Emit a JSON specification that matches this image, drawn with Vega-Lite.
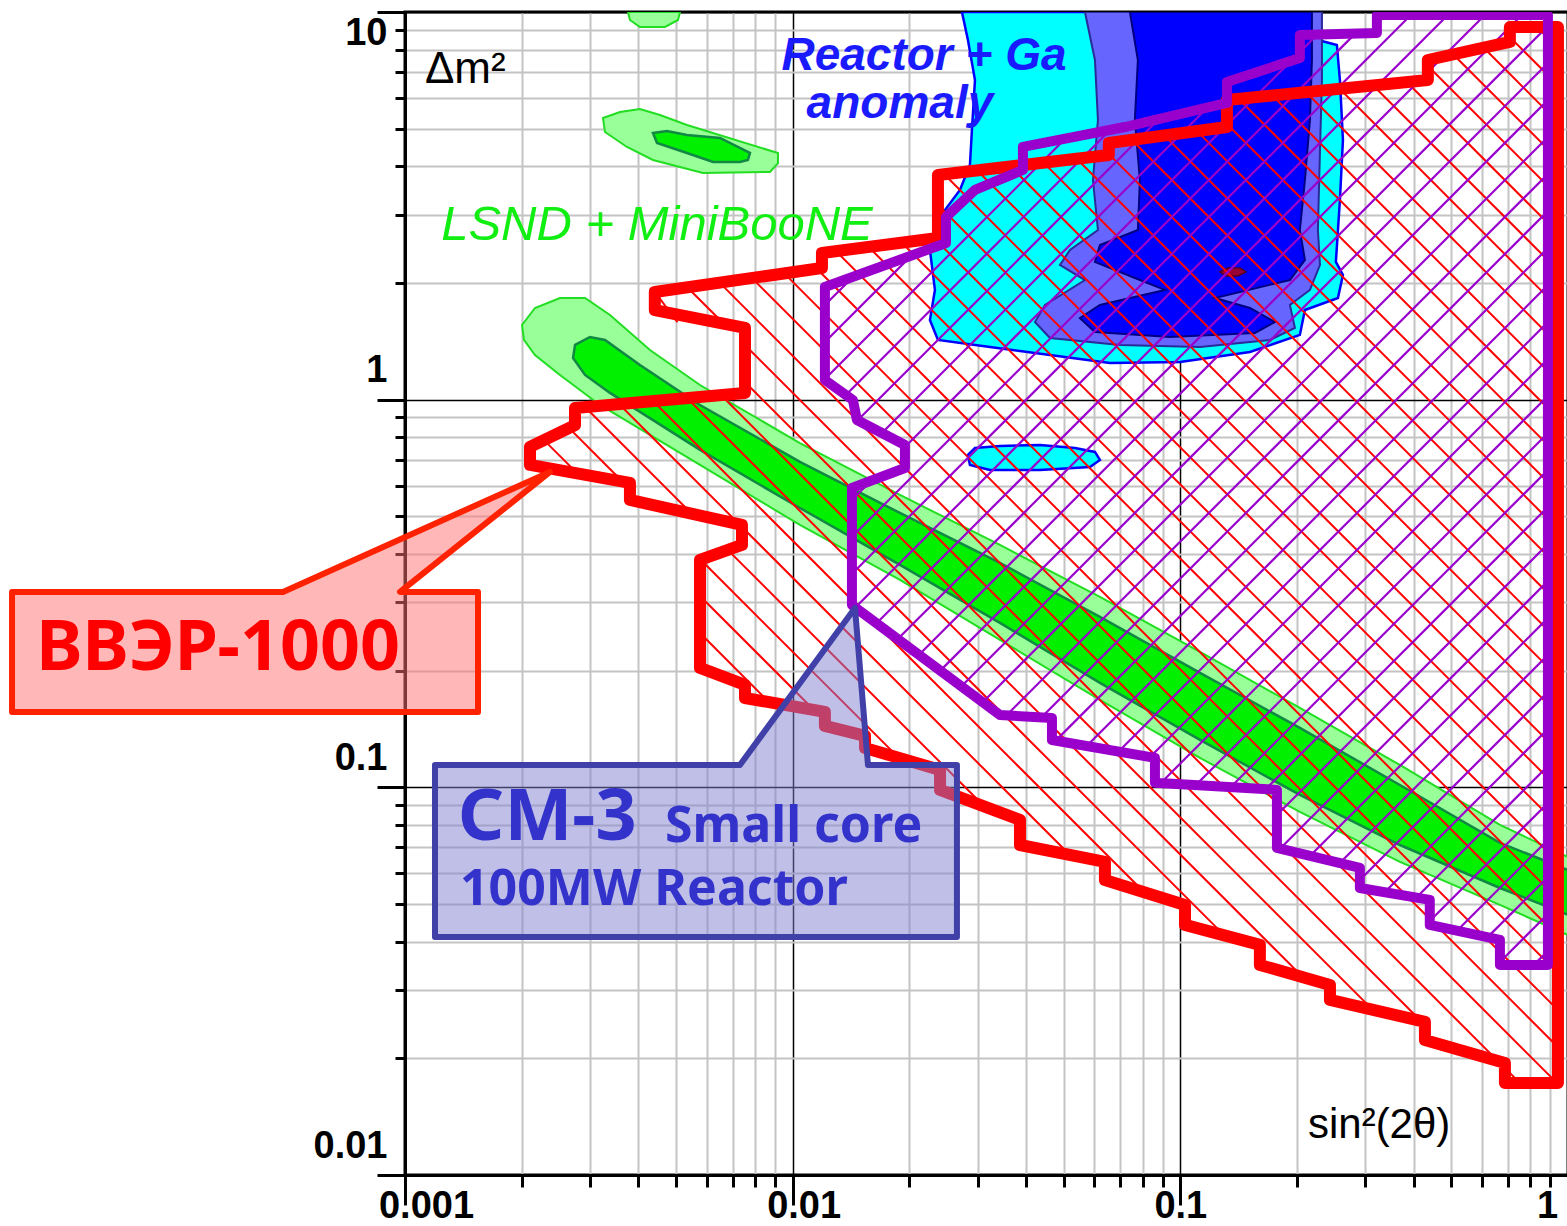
{
"$schema":"https://vega.github.io/schema/vega-lite/v6.json",
"width":1163,"height":1163,
"autosize":{"type":"none"},
"padding":{"left":405,"top":12,"right":0,"bottom":51},
"background":"white",
"config":{"view":{"stroke":"black","strokeWidth":3}},
"datasets":{
"poly":[
{"s":"g1","p":1,"i":0,"x":0.002004,"y":1.558},{"s":"g1","p":1,"i":1,"x":0.002164,"y":1.724},{"s":"g1","p":1,"i":2,"x":0.00251,"y":1.829},{"s":"g1","p":1,"i":3,"x":0.002913,"y":1.829},{"s":"g1","p":1,"i":4,"x":0.003379,"y":1.654},{"s":"g1","p":1,"i":5,"x":0.004284,"y":1.343},{"s":"g1","p":1,"i":6,"x":0.005767,"y":1.091},{"s":"g1","p":1,"i":7,"x":0.01044,"y":0.773},{"s":"g1","p":1,"i":8,"x":0.01891,"y":0.5678},{"s":"g1","p":1,"i":9,"x":0.03425,"y":0.422},{"s":"g1","p":1,"i":10,"x":0.06203,"y":0.3098},{"s":"g1","p":1,"i":11,"x":0.1124,"y":0.2235},{"s":"g1","p":1,"i":12,"x":0.2034,"y":0.1602},{"s":"g1","p":1,"i":13,"x":0.3685,"y":0.1142},{"s":"g1","p":1,"i":14,"x":0.6674,"y":0.08},{"s":"g1","p":1,"i":15,"x":1.0,"y":0.0661},{"s":"g1","p":1,"i":16,"x":1.0,"y":0.0416},{"s":"g1","p":1,"i":17,"x":0.6674,"y":0.04974},{"s":"g1","p":1,"i":18,"x":0.3685,"y":0.0642},{"s":"g1","p":1,"i":19,"x":0.2034,"y":0.0864},{"s":"g1","p":1,"i":20,"x":0.1124,"y":0.1191},{"s":"g1","p":1,"i":21,"x":0.06203,"y":0.168},{"s":"g1","p":1,"i":22,"x":0.03425,"y":0.24},{"s":"g1","p":1,"i":23,"x":0.01891,"y":0.3427},{"s":"g1","p":1,"i":24,"x":0.01044,"y":0.4752},{"s":"g1","p":1,"i":25,"x":0.005767,"y":0.6786},{"s":"g1","p":1,"i":26,"x":0.003184,"y":0.969},{"s":"g1","p":1,"i":27,"x":0.00251,"y":1.158},{"s":"g1","p":1,"i":28,"x":0.002164,"y":1.304},{"s":"g1","p":1,"i":29,"x":0.002027,"y":1.426},
{"s":"g1","p":2,"i":0,"x":0.003241,"y":5.329},{"s":"g1","p":2,"i":1,"x":0.003586,"y":5.523},{"s":"g1","p":2,"i":2,"x":0.004037,"y":5.622},{"s":"g1","p":2,"i":3,"x":0.004546,"y":5.425},{"s":"g1","p":2,"i":4,"x":0.005338,"y":5.11},{"s":"g1","p":2,"i":5,"x":0.009165,"y":4.328},{"s":"g1","p":2,"i":6,"x":0.009165,"y":4.077},{"s":"g1","p":2,"i":7,"x":0.008739,"y":3.867},{"s":"g1","p":2,"i":8,"x":0.005869,"y":3.844},{"s":"g1","p":2,"i":9,"x":0.004362,"y":4.152},{"s":"g1","p":2,"i":10,"x":0.003738,"y":4.486},{"s":"g1","p":2,"i":11,"x":0.00328,"y":4.903},
{"s":"g1","p":3,"i":0,"x":0.003761,"y":10},{"s":"g1","p":3,"i":1,"x":0.003804,"y":9.536},{"s":"g1","p":3,"i":2,"x":0.004037,"y":9.15},{"s":"g1","p":3,"i":3,"x":0.004684,"y":9.15},{"s":"g1","p":3,"i":4,"x":0.005061,"y":9.536},{"s":"g1","p":3,"i":5,"x":0.005121,"y":10},
{"s":"g2","p":1,"i":0,"x":0.002745,"y":1.384},{"s":"g2","p":1,"i":1,"x":0.003,"y":1.451},{"s":"g2","p":1,"i":2,"x":0.00328,"y":1.426},{"s":"g2","p":1,"i":3,"x":0.004037,"y":1.229},{"s":"g2","p":1,"i":4,"x":0.005767,"y":0.969},{"s":"g2","p":1,"i":5,"x":0.01044,"y":0.691},{"s":"g2","p":1,"i":6,"x":0.01891,"y":0.5102},{"s":"g2","p":1,"i":7,"x":0.03425,"y":0.3792},{"s":"g2","p":1,"i":8,"x":0.06203,"y":0.2751},{"s":"g2","p":1,"i":9,"x":0.1124,"y":0.1973},{"s":"g2","p":1,"i":10,"x":0.2034,"y":0.1423},{"s":"g2","p":1,"i":11,"x":0.3685,"y":0.1014},{"s":"g2","p":1,"i":12,"x":0.6674,"y":0.0719},{"s":"g2","p":1,"i":13,"x":1.0,"y":0.0612},{"s":"g2","p":1,"i":14,"x":1.0,"y":0.0469},{"s":"g2","p":1,"i":15,"x":0.6674,"y":0.055},{"s":"g2","p":1,"i":16,"x":0.3685,"y":0.071},{"s":"g2","p":1,"i":17,"x":0.2034,"y":0.0956},{"s":"g2","p":1,"i":18,"x":0.1124,"y":0.1325},{"s":"g2","p":1,"i":19,"x":0.06203,"y":0.1859},{"s":"g2","p":1,"i":20,"x":0.03425,"y":0.2655},{"s":"g2","p":1,"i":21,"x":0.01891,"y":0.3747},{"s":"g2","p":1,"i":22,"x":0.01044,"y":0.5255},{"s":"g2","p":1,"i":23,"x":0.005767,"y":0.742},{"s":"g2","p":1,"i":24,"x":0.003379,"y":1.041},{"s":"g2","p":1,"i":25,"x":0.002913,"y":1.158},{"s":"g2","p":1,"i":26,"x":0.002713,"y":1.281},
{"s":"g2","p":2,"i":0,"x":0.004362,"y":4.874},{"s":"g2","p":2,"i":1,"x":0.00474,"y":4.933},{"s":"g2","p":2,"i":2,"x":0.005338,"y":4.816},{"s":"g2","p":2,"i":3,"x":0.006494,"y":4.732},{"s":"g2","p":2,"i":4,"x":0.007761,"y":4.328},{"s":"g2","p":2,"i":5,"x":0.007667,"y":4.152},{"s":"g2","p":2,"i":6,"x":0.007311,"y":4.103},{"s":"g2","p":2,"i":7,"x":0.006229,"y":4.103},{"s":"g2","p":2,"i":8,"x":0.005338,"y":4.328},{"s":"g2","p":2,"i":9,"x":0.004467,"y":4.594},
{"s":"c1","p":1,"i":0,"x":0.02733,"y":10},{"s":"c1","p":1,"i":1,"x":0.02832,"y":8.47},{"s":"c1","p":1,"i":2,"x":0.02953,"y":6.678},{"s":"c1","p":1,"i":3,"x":0.029,"y":4.961},{"s":"c1","p":1,"i":4,"x":0.02866,"y":4.03},{"s":"c1","p":1,"i":5,"x":0.02701,"y":3.475},{"s":"c1","p":1,"i":6,"x":0.02471,"y":3.085},{"s":"c1","p":1,"i":7,"x":0.02328,"y":2.66},{"s":"c1","p":1,"i":8,"x":0.0226,"y":2.433},{"s":"c1","p":1,"i":9,"x":0.02328,"y":1.919},{"s":"c1","p":1,"i":10,"x":0.0226,"y":1.605},{"s":"c1","p":1,"i":11,"x":0.0237,"y":1.426},{"s":"c1","p":1,"i":12,"x":0.03228,"y":1.367},{"s":"c1","p":1,"i":13,"x":0.0461,"y":1.304},{"s":"c1","p":1,"i":14,"x":0.0658,"y":1.244},{"s":"c1","p":1,"i":15,"x":0.0998,"y":1.251},{"s":"c1","p":1,"i":16,"x":0.1512,"y":1.327},{"s":"c1","p":1,"i":17,"x":0.2034,"y":1.469},{"s":"c1","p":1,"i":18,"x":0.2096,"y":1.703},{"s":"c1","p":1,"i":19,"x":0.255,"y":1.829},{"s":"c1","p":1,"i":20,"x":0.2627,"y":2.097},{"s":"c1","p":1,"i":21,"x":0.2519,"y":2.266},{"s":"c1","p":1,"i":22,"x":0.258,"y":3.274},{"s":"c1","p":1,"i":23,"x":0.2627,"y":4.676},{"s":"c1","p":1,"i":24,"x":0.258,"y":6.678},{"s":"c1","p":1,"i":25,"x":0.2534,"y":8.223},{"s":"c1","p":1,"i":26,"x":0.2264,"y":8.47},{"s":"c1","p":1,"i":27,"x":0.2224,"y":10},
{"s":"c1","p":2,"i":0,"x":0.02832,"y":0.7203},{"s":"c1","p":2,"i":1,"x":0.02953,"y":0.7506},{"s":"c1","p":2,"i":2,"x":0.03425,"y":0.7597},{"s":"c1","p":2,"i":3,"x":0.04345,"y":0.7641},{"s":"c1","p":2,"i":4,"x":0.05348,"y":0.7506},{"s":"c1","p":2,"i":5,"x":0.06022,"y":0.7332},{"s":"c1","p":2,"i":6,"x":0.06203,"y":0.6992},{"s":"c1","p":2,"i":7,"x":0.05846,"y":0.6707},{"s":"c1","p":2,"i":8,"x":0.04345,"y":0.6589},{"s":"c1","p":2,"i":9,"x":0.03228,"y":0.6589},{"s":"c1","p":2,"i":10,"x":0.02866,"y":0.6786},
{"s":"c2","p":1,"i":0,"x":0.05675,"y":10},{"s":"c2","p":1,"i":1,"x":0.06022,"y":7.52},{"s":"c2","p":1,"i":2,"x":0.0613,"y":5.266},{"s":"c2","p":1,"i":3,"x":0.05951,"y":3.687},{"s":"c2","p":1,"i":4,"x":0.0613,"y":2.74},{"s":"c2","p":1,"i":5,"x":0.05191,"y":2.433},{"s":"c2","p":1,"i":6,"x":0.04892,"y":2.226},{"s":"c2","p":1,"i":7,"x":0.05675,"y":2.035},{"s":"c2","p":1,"i":8,"x":0.04476,"y":1.755},{"s":"c2","p":1,"i":9,"x":0.04217,"y":1.586},{"s":"c2","p":1,"i":10,"x":0.0461,"y":1.442},{"s":"c2","p":1,"i":11,"x":0.06985,"y":1.384},{"s":"c2","p":1,"i":12,"x":0.1124,"y":1.367},{"s":"c2","p":1,"i":13,"x":0.1703,"y":1.426},{"s":"c2","p":1,"i":14,"x":0.1975,"y":1.531},{"s":"c2","p":1,"i":15,"x":0.1917,"y":1.755},{"s":"c2","p":1,"i":16,"x":0.2159,"y":1.919},{"s":"c2","p":1,"i":17,"x":0.2292,"y":2.226},{"s":"c2","p":1,"i":18,"x":0.2264,"y":2.74},{"s":"c2","p":1,"i":19,"x":0.2292,"y":4.406},{"s":"c2","p":1,"i":20,"x":0.2319,"y":6.678},{"s":"c2","p":1,"i":21,"x":0.2319,"y":10},
{"s":"c3","p":1,"i":0,"x":0.07413,"y":10},{"s":"c3","p":1,"i":1,"x":0.07771,"y":7.52},{"s":"c3","p":1,"i":2,"x":0.07634,"y":5.266},{"s":"c3","p":1,"i":3,"x":0.07865,"y":3.687},{"s":"c3","p":1,"i":4,"x":0.07771,"y":2.74},{"s":"c3","p":1,"i":5,"x":0.06203,"y":2.506},{"s":"c3","p":1,"i":6,"x":0.06022,"y":2.266},{"s":"c3","p":1,"i":7,"x":0.07865,"y":2.035},{"s":"c3","p":1,"i":8,"x":0.09126,"y":1.919},{"s":"c3","p":1,"i":9,"x":0.06203,"y":1.755},{"s":"c3","p":1,"i":10,"x":0.05508,"y":1.624},{"s":"c3","p":1,"i":11,"x":0.06022,"y":1.495},{"s":"c3","p":1,"i":12,"x":0.09402,"y":1.451},{"s":"c3","p":1,"i":13,"x":0.1557,"y":1.486},{"s":"c3","p":1,"i":14,"x":0.1754,"y":1.586},{"s":"c3","p":1,"i":15,"x":0.1512,"y":1.724},{"s":"c3","p":1,"i":16,"x":0.1228,"y":1.829},{"s":"c3","p":1,"i":17,"x":0.1917,"y":2.035},{"s":"c3","p":1,"i":18,"x":0.2096,"y":2.293},{"s":"c3","p":1,"i":19,"x":0.2034,"y":2.74},{"s":"c3","p":1,"i":20,"x":0.2096,"y":3.687},{"s":"c3","p":1,"i":21,"x":0.2159,"y":5.266},{"s":"c3","p":1,"i":22,"x":0.2185,"y":7.52},{"s":"c3","p":1,"i":23,"x":0.2185,"y":10},
{"s":"sp","p":1,"i":0,"x":0.1265,"y":2.135},{"s":"sp","p":1,"i":1,"x":0.1327,"y":2.186},{"s":"sp","p":1,"i":2,"x":0.1425,"y":2.186},{"s":"sp","p":1,"i":3,"x":0.1476,"y":2.135},{"s":"sp","p":1,"i":4,"x":0.1408,"y":2.085},{"s":"sp","p":1,"i":5,"x":0.1311,"y":2.085},
{"s":"red","p":1,"i":0,"x":0.00441,"y":1.896},{"s":"red","p":1,"i":1,"x":0.0119,"y":2.186},{"s":"red","p":1,"i":2,"x":0.0119,"y":2.39},{"s":"red","p":1,"i":3,"x":0.0237,"y":2.613},{"s":"red","p":1,"i":4,"x":0.0237,"y":3.798},{"s":"red","p":1,"i":5,"x":0.0654,"y":4.278},{"s":"red","p":1,"i":6,"x":0.0654,"y":4.594},{"s":"red","p":1,"i":7,"x":0.1319,"y":5.05},{"s":"red","p":1,"i":8,"x":0.1319,"y":5.93},{"s":"red","p":1,"i":9,"x":0.435,"y":6.678},{"s":"red","p":1,"i":10,"x":0.435,"y":7.52},{"s":"red","p":1,"i":11,"x":0.708,"y":8.37},{"s":"red","p":1,"i":12,"x":0.708,"y":9.15},{"s":"red","p":1,"i":13,"x":0.942,"y":9.15},{"s":"red","p":1,"i":14,"x":0.942,"y":0.01728},{"s":"red","p":1,"i":15,"x":0.6875,"y":0.01728},{"s":"red","p":1,"i":16,"x":0.6875,"y":0.01946},{"s":"red","p":1,"i":17,"x":0.4275,"y":0.0223},{"s":"red","p":1,"i":18,"x":0.4275,"y":0.02483},{"s":"red","p":1,"i":19,"x":0.2432,"y":0.02829},{"s":"red","p":1,"i":20,"x":0.2432,"y":0.03092},{"s":"red","p":1,"i":21,"x":0.1604,"y":0.03483},{"s":"red","p":1,"i":22,"x":0.1604,"y":0.03922},{"s":"red","p":1,"i":23,"x":0.1028,"y":0.04417},{"s":"red","p":1,"i":24,"x":0.1028,"y":0.04974},{"s":"red","p":1,"i":25,"x":0.0639,"y":0.0577},{"s":"red","p":1,"i":26,"x":0.0639,"y":0.0642},{"s":"red","p":1,"i":27,"x":0.03858,"y":0.071},{"s":"red","p":1,"i":28,"x":0.03858,"y":0.0824},{"s":"red","p":1,"i":29,"x":0.024,"y":0.0985},{"s":"red","p":1,"i":30,"x":0.024,"y":0.1109},{"s":"red","p":1,"i":31,"x":0.01537,"y":0.1264},{"s":"red","p":1,"i":32,"x":0.01537,"y":0.1357},{"s":"red","p":1,"i":33,"x":0.01211,"y":0.144},{"s":"red","p":1,"i":34,"x":0.01211,"y":0.1565},{"s":"red","p":1,"i":35,"x":0.007534,"y":0.17},{"s":"red","p":1,"i":36,"x":0.007534,"y":0.1837},{"s":"red","p":1,"i":37,"x":0.005767,"y":0.2032},{"s":"red","p":1,"i":38,"x":0.005767,"y":0.386},{"s":"red","p":1,"i":39,"x":0.0074,"y":0.422},{"s":"red","p":1,"i":40,"x":0.0074,"y":0.4752},{"s":"red","p":1,"i":41,"x":0.003804,"y":0.5512},{"s":"red","p":1,"i":42,"x":0.003804,"y":0.6098},{"s":"red","p":1,"i":43,"x":0.002101,"y":0.6786},{"s":"red","p":1,"i":44,"x":0.002101,"y":0.7551},{"s":"red","p":1,"i":45,"x":0.002745,"y":0.86},{"s":"red","p":1,"i":46,"x":0.002745,"y":0.952},{"s":"red","p":1,"i":47,"x":0.007534,"y":1.041},{"s":"red","p":1,"i":48,"x":0.007534,"y":1.531},{"s":"red","p":1,"i":49,"x":0.00441,"y":1.703},
{"s":"pur","p":1,"i":0,"x":0.01211,"y":1.953},{"s":"pur","p":1,"i":1,"x":0.02486,"y":2.536},{"s":"pur","p":1,"i":2,"x":0.02486,"y":2.959},{"s":"pur","p":1,"i":3,"x":0.02953,"y":3.475},{"s":"pur","p":1,"i":4,"x":0.03926,"y":3.913},{"s":"pur","p":1,"i":5,"x":0.03926,"y":4.486},{"s":"pur","p":1,"i":6,"x":0.07195,"y":5.05},{"s":"pur","p":1,"i":7,"x":0.1319,"y":5.826},{"s":"pur","p":1,"i":8,"x":0.1319,"y":6.597},{"s":"pur","p":1,"i":9,"x":0.2034,"y":7.61},{"s":"pur","p":1,"i":10,"x":0.2034,"y":8.725},{"s":"pur","p":1,"i":11,"x":0.3214,"y":8.83},{"s":"pur","p":1,"i":12,"x":0.3214,"y":9.82},{"s":"pur","p":1,"i":13,"x":0.8876,"y":9.82},{"s":"pur","p":1,"i":14,"x":0.8876,"y":0.03483},{"s":"pur","p":1,"i":15,"x":0.6674,"y":0.03483},{"s":"pur","p":1,"i":16,"x":0.6674,"y":0.0404},{"s":"pur","p":1,"i":17,"x":0.44,"y":0.04417},{"s":"pur","p":1,"i":18,"x":0.44,"y":0.05124},{"s":"pur","p":1,"i":19,"x":0.2905,"y":0.055},{"s":"pur","p":1,"i":20,"x":0.2905,"y":0.062},{"s":"pur","p":1,"i":21,"x":0.1775,"y":0.0698},{"s":"pur","p":1,"i":22,"x":0.1775,"y":0.0985},{"s":"pur","p":1,"i":23,"x":0.086,"y":0.1027},{"s":"pur","p":1,"i":24,"x":0.086,"y":0.1191},{"s":"pur","p":1,"i":25,"x":0.04665,"y":0.1325},{"s":"pur","p":1,"i":26,"x":0.04665,"y":0.151},{"s":"pur","p":1,"i":27,"x":0.03425,"y":0.1537},{"s":"pur","p":1,"i":28,"x":0.01422,"y":0.2955},{"s":"pur","p":1,"i":29,"x":0.01422,"y":0.592},{"s":"pur","p":1,"i":30,"x":0.01948,"y":0.6664},{"s":"pur","p":1,"i":31,"x":0.01948,"y":0.7641},{"s":"pur","p":1,"i":32,"x":0.01465,"y":0.8861},{"s":"pur","p":1,"i":33,"x":0.0143,"y":0.998},{"s":"pur","p":1,"i":34,"x":0.01211,"y":1.124},
{"s":"cr","p":1,"i":0,"x":0.0000969,"y":0.3192},{"s":"cr","p":1,"i":1,"x":0.0004845,"y":0.3192},{"s":"cr","p":1,"i":2,"x":0.002366,"y":0.6508},{"s":"cr","p":1,"i":3,"x":0.000971,"y":0.3192},{"s":"cr","p":1,"i":4,"x":0.001543,"y":0.3192},{"s":"cr","p":1,"i":5,"x":0.001543,"y":0.1565},{"s":"cr","p":1,"i":6,"x":0.0000969,"y":0.1565},
{"s":"cb","p":1,"i":0,"x":0.001195,"y":0.1142},{"s":"cb","p":1,"i":1,"x":0.007311,"y":0.1142},{"s":"cb","p":1,"i":2,"x":0.01448,"y":0.2903},{"s":"cb","p":1,"i":3,"x":0.01564,"y":0.1142},{"s":"cb","p":1,"i":4,"x":0.02653,"y":0.1142},{"s":"cb","p":1,"i":5,"x":0.02653,"y":0.04113},{"s":"cb","p":1,"i":6,"x":0.001195,"y":0.04113}
],
"hr":[
{"x":0.8314,"y":9.148,"x2":0.9412,"y2":8.073},{"x":0.7079,"y":8.615,"x2":0.9412,"y2":6.479},{"x":0.6062,"y":8.084,"x2":0.9412,"y2":5.2},{"x":0.5059,"y":7.771,"x2":0.9412,"y2":4.176},{"x":0.4351,"y":7.256,"x2":0.9412,"y2":3.352},{"x":0.3843,"y":6.589,"x2":0.9412,"y2":2.691},{"x":0.3144,"y":6.465,"x2":0.9412,"y2":2.159},{"x":0.2576,"y":6.337,"x2":0.9412,"y2":1.7328},{"x":0.211,"y":6.211,"x2":0.9412,"y2":1.392},{"x":0.1727,"y":6.089,"x2":0.9412,"y2":1.1172},{"x":0.1414,"y":5.967,"x2":0.9412,"y2":0.8966},{"x":0.1319,"y":5.14,"x2":0.9412,"y2":0.7203},{"x":0.1104,"y":4.928,"x2":0.9412,"y2":0.578},{"x":0.09099,"y":4.803,"x2":0.9412,"y2":0.4639},{"x":0.07496,"y":4.677,"x2":0.9412,"y2":0.3724},{"x":0.06545,"y":4.3,"x2":0.9412,"y2":0.2988},{"x":0.05403,"y":4.182,"x2":0.9412,"y2":0.24},{"x":0.04437,"y":4.087,"x2":0.9412,"y2":0.1927},{"x":0.03646,"y":3.995,"x2":0.9412,"y2":0.1546},{"x":0.02993,"y":3.902,"x2":0.9412,"y2":0.1241},{"x":0.0246,"y":3.814,"x2":0.9412,"y2":0.09966},{"x":0.0237,"y":3.178,"x2":0.9412,"y2":0.08},{"x":0.02321,"y":2.603,"x2":0.9412,"y2":0.0642},{"x":0.0191,"y":2.541,"x2":0.9412,"y2":0.05152},{"x":0.01571,"y":2.476,"x2":0.9412,"y2":0.04134},{"x":0.01294,"y":2.415,"x2":0.9412,"y2":0.03321},{"x":0.01154,"y":2.176,"x2":0.9412,"y2":0.02666},{"x":0.009511,"y":2.117,"x2":0.9412,"y2":0.02139},{"x":0.007853,"y":2.058,"x2":0.9359,"y2":0.01728},{"x":0.006479,"y":2.004,"x2":0.751,"y2":0.01728},
{"x":0.005346,"y":1.949,"x2":0.006642,"y2":1.569},{"x":0.00753,"y":1.384,"x2":0.4273,"y2":0.02439},{"x":0.00441,"y":1.896,"x2":0.005045,"y2":1.584},{"x":0.00753,"y":1.111,"x2":0.3137,"y2":0.02666},{"x":0.006532,"y":1.028,"x2":0.2074,"y2":0.03234},{"x":0.00534,"y":1.0095,"x2":0.1299,"y2":0.0415},{"x":0.004364,"y":0.9917,"x2":0.0807,"y2":0.05362},{"x":0.003565,"y":0.9743,"x2":0.05191,"y2":0.06692},{"x":0.002914,"y":0.957,"x2":0.005492,"y2":0.5078},{"x":0.00681,"y":0.4092,"x2":0.03128,"y2":0.08913},{"x":0.002647,"y":0.8457,"x2":0.003643,"y2":0.6144},{"x":0.005767,"y":0.388,"x2":0.01879,"y2":0.1191},{"x":0.002283,"y":0.7862,"x2":0.002787,"y2":0.6446},{"x":0.005767,"y":0.3115,"x2":0.01135,"y2":0.1583},{"x":0.005767,"y":0.2502,"x2":0.008689,"y2":0.1658}
],
"hp":[
{"x":0.01211,"y":1.755,"x2":0.01433,"y2":2.076},{"x":0.01211,"y":1.408,"x2":0.02024,"y2":2.353},{"x":0.02486,"y":2.89,"x2":0.0301,"y2":3.503},{"x":0.01211,"y":1.13,"x2":0.05048,"y2":4.71},{"x":0.01371,"y":1.0283,"x2":0.06604,"y2":4.967},{"x":0.01471,"y":0.8848,"x2":0.08806,"y2":5.296},{"x":0.01699,"y":0.8202,"x2":0.1174,"y2":5.664},{"x":0.01421,"y":0.5512,"x2":0.01595,"y2":0.618},{"x":0.01948,"y":0.7551,"x2":0.193,"y2":7.479},{"x":0.2034,"y":7.879,"x2":0.2256,"y2":8.75},{"x":0.01421,"y":0.4424,"x2":0.2826,"y2":8.796},{"x":0.01421,"y":0.3551,"x2":0.3932,"y2":9.82},{"x":0.01451,"y":0.2909,"x2":0.4899,"y2":9.82},{"x":0.01646,"y":0.265,"x2":0.6103,"y2":9.82},{"x":0.01867,"y":0.2413,"x2":0.7605,"y2":9.82},{"x":0.02118,"y":0.2197,"x2":0.8876,"y2":9.202},{"x":0.02403,"y":0.2,"x2":0.8876,"y2":7.386},{"x":0.02725,"y":0.1822,"x2":0.8876,"y2":5.93},{"x":0.03092,"y":0.1658,"x2":0.8876,"y2":4.757},{"x":0.03561,"y":0.1534,"x2":0.8876,"y2":3.821},{"x":0.04385,"y":0.1516,"x2":0.8876,"y2":3.067},{"x":0.04757,"y":0.1316,"x2":0.8876,"y2":2.461},{"x":0.05733,"y":0.1278,"x2":0.8876,"y2":1.975},{"x":0.0692,"y":0.1236,"x2":0.8876,"y2":1.586},{"x":0.08343,"y":0.1196,"x2":0.8876,"y2":1.273},{"x":0.08894,"y":0.1025,"x2":0.8876,"y2":1.0221},{"x":0.1095,"y":0.1012,"x2":0.8876,"y2":0.8202},{"x":0.1348,"y":0.1001,"x2":0.8876,"y2":0.6589},{"x":0.166,"y":0.09888,"x2":0.8876,"y2":0.5287},{"x":0.1774,"y":0.08486,"x2":0.8876,"y2":0.4244},{"x":0.1807,"y":0.06944,"x2":0.8876,"y2":0.3406},{"x":0.2159,"y":0.06654,"x2":0.8876,"y2":0.2732},{"x":0.2578,"y":0.06379,"x2":0.8876,"y2":0.2195},{"x":0.2905,"y":0.0577,"x2":0.8876,"y2":0.1762},{"x":0.3366,"y":0.05365,"x2":0.8876,"y2":0.1414},{"x":0.4058,"y":0.05191,"x2":0.8876,"y2":0.1135},{"x":0.44,"y":0.0452,"x2":0.8876,"y2":0.09116},{"x":0.5172,"y":0.04266,"x2":0.8876,"y2":0.0732},{"x":0.6196,"y":0.04101,"x2":0.8876,"y2":0.05872},{"x":0.6674,"y":0.03545,"x2":0.8876,"y2":0.04713},{"x":0.8163,"y":0.03483,"x2":0.8876,"y2":0.03784}
],
"txt":[
{"k":"dm","t":"Δm²","x":0.001126,"y":6.56},
{"k":"sin","t":"sin²(2θ)","x":0.2134,"y":0.01247},
{"k":"lsnd","t":"LSND + MiniBooNE","x":0.004467,"y":2.582},
{"k":"rg","t":"Reactor + Ga","x":0.02181,"y":7.085},
{"k":"rg","t":"anomaly","x":0.01891,"y":5.329},
{"k":"vv","t":"ВВЭР-1000","x":0.0003294,"y":0.2009},
{"k":"cm","t":"СМ-3","x":0.00137,"y":0.0732},
{"k":"cs","t":"Small core","x":0.004684,"y":0.0723},
{"k":"cs","t":"100MW Reactor","x":0.001386,"y":0.04974}
]
},
"encoding":{
"x":{"field":"x","type":"quantitative","scale":{"type":"log","domain":[0.001,1],"nice":false},
"axis":{"title":null,"orient":"bottom","values":[0.001,0.002,0.003,0.004,0.005,0.006,0.007,0.008,0.009,0.01,0.02,0.03,0.04,0.05,0.06,0.07,0.08,0.09,0.1,0.2,0.3,0.4,0.5,0.6,0.7,0.8,0.9,1],
"grid":true,"gridColor":{"condition":{"test":"indexof([0.001,0.01,0.1,1],datum.value)>=0","value":"#000000"},"value":"#c4c4c4"},
"gridWidth":{"condition":{"test":"indexof([0.001,0.01,0.1,1],datum.value)>=0","value":1.5},"value":2},
"tickColor":"#000000","tickSize":{"condition":{"test":"indexof([0.001,0.01,0.1,1],datum.value)>=0","value":30},"value":12},
"tickWidth":3,"domainColor":"#000000","domainWidth":3,
"labelExpr":"datum.value==0.001?'0.001':datum.value==0.01?'0.01':datum.value==0.1?'0.1':datum.value==1?'1':''",
"labelFont":"Liberation Sans","labelFontWeight":"bold","labelFontSize":38,"labelColor":"#000000","labelPadding":-18,"labelFlush":false,"labelOverlap":false,
"labelOffset":{"condition":[{"test":"datum.value==0.001","value":21},{"test":"datum.value==0.01","value":11},{"test":"datum.value==1","value":-21}],"value":0}}},
"y":{"field":"y","type":"quantitative","scale":{"type":"log","domain":[0.01,10],"nice":false},
"axis":{"title":null,"orient":"left","values":[0.01,0.02,0.03,0.04,0.05,0.06,0.07,0.08,0.09,0.1,0.2,0.3,0.4,0.5,0.6,0.7,0.8,0.9,1,2,3,4,5,6,7,8,9,10],
"grid":true,"gridColor":{"condition":{"test":"indexof([0.01,0.1,1,10],datum.value)>=0","value":"#000000"},"value":"#c4c4c4"},
"gridWidth":{"condition":{"test":"indexof([0.01,0.1,1,10],datum.value)>=0","value":1.5},"value":2},
"tickColor":"#000000","tickSize":{"condition":{"test":"indexof([0.01,0.1,1,10],datum.value)>=0","value":28},"value":10},
"tickWidth":3,"domainColor":"#000000","domainWidth":3,
"labelExpr":"datum.value==0.01?'0.01':datum.value==0.1?'0.1':datum.value==1?'1':datum.value==10?'10':''",
"labelFont":"Liberation Sans","labelFontWeight":"bold","labelFontSize":38,"labelColor":"#000000","labelPadding":-10,"labelFlush":false,"labelOverlap":false,
"labelOffset":{"condition":{"test":"datum.value==10","value":21},"value":-29}}}
},
"layer":[
{"data":{"name":"poly"},"transform":[{"filter":"datum.s=='g1'"}],"mark":{"type":"line","interpolate":"linear-closed","fill":"#99ff99","stroke":"#22dd22","strokeWidth":2,"clip":true},"encoding":{"order":{"field":"i","type":"quantitative"},"detail":{"field":"p"}}},
{"data":{"name":"poly"},"transform":[{"filter":"datum.s=='g2'"}],"mark":{"type":"line","interpolate":"linear-closed","fill":"#00f000","stroke":"#118844","strokeWidth":2.5,"clip":true},"encoding":{"order":{"field":"i","type":"quantitative"},"detail":{"field":"p"}}},
{"data":{"name":"poly"},"transform":[{"filter":"datum.s=='c1'"}],"mark":{"type":"line","interpolate":"linear-closed","fill":"#00ffff","stroke":"#0000ff","strokeWidth":2.5,"clip":true},"encoding":{"order":{"field":"i","type":"quantitative"},"detail":{"field":"p"}}},
{"data":{"name":"poly"},"transform":[{"filter":"datum.s=='c2'"}],"mark":{"type":"line","interpolate":"linear-closed","fill":"#6666ff","stroke":"#2a2a99","strokeWidth":2,"clip":true},"encoding":{"order":{"field":"i","type":"quantitative"},"detail":{"field":"p"}}},
{"data":{"name":"poly"},"transform":[{"filter":"datum.s=='c3'"}],"mark":{"type":"line","interpolate":"linear-closed","fill":"#0000ff","stroke":"#000080","strokeWidth":2,"clip":true},"encoding":{"order":{"field":"i","type":"quantitative"},"detail":{"field":"p"}}},
{"data":{"name":"poly"},"transform":[{"filter":"datum.s=='sp'"}],"mark":{"type":"line","interpolate":"linear-closed","fill":"#990033","stroke":"#550022","strokeWidth":1.5,"clip":true},"encoding":{"order":{"field":"i","type":"quantitative"},"detail":{"field":"p"}}},
{"data":{"name":"hr"},"mark":{"type":"rule","color":"#ff0000","strokeWidth":2,"clip":true},"encoding":{"x2":{"field":"x2"},"y2":{"field":"y2"}}},
{"data":{"name":"hp"},"mark":{"type":"rule","color":"#9900cc","strokeWidth":2.2,"clip":true},"encoding":{"x2":{"field":"x2"},"y2":{"field":"y2"}}},
{"data":{"name":"poly"},"transform":[{"filter":"datum.s=='red'"}],"mark":{"type":"line","interpolate":"linear-closed","stroke":"#ff0000","strokeWidth":12,"strokeJoin":"round","clip":true},"encoding":{"order":{"field":"i","type":"quantitative"},"detail":{"field":"p"}}},
{"data":{"name":"poly"},"transform":[{"filter":"datum.s=='pur'"}],"mark":{"type":"line","interpolate":"linear-closed","stroke":"#9900cc","strokeWidth":10,"strokeJoin":"round","clip":true},"encoding":{"order":{"field":"i","type":"quantitative"},"detail":{"field":"p"}}},
{"data":{"name":"txt"},"transform":[{"filter":"datum.k=='dm'"}],"mark":{"type":"text","font":"Liberation Sans","fontSize":44,"align":"left","baseline":"alphabetic","color":"#000000"},"encoding":{"text":{"field":"t"}}},
{"data":{"name":"txt"},"transform":[{"filter":"datum.k=='sin'"}],"mark":{"type":"text","font":"Liberation Sans","fontSize":42,"align":"left","baseline":"alphabetic","color":"#000000"},"encoding":{"text":{"field":"t"}}},
{"data":{"name":"txt"},"transform":[{"filter":"datum.k=='lsnd'"}],"mark":{"type":"text","font":"Liberation Sans","fontSize":49,"fontStyle":"italic","align":"center","baseline":"alphabetic","color":"#11ee11"},"encoding":{"text":{"field":"t"}}},
{"data":{"name":"txt"},"transform":[{"filter":"datum.k=='rg'"}],"mark":{"type":"text","font":"Liberation Sans","fontSize":46,"fontStyle":"italic","fontWeight":"bold","align":"center","baseline":"alphabetic","color":"#1a1aff"},"encoding":{"text":{"field":"t"}}},
{"data":{"name":"poly"},"transform":[{"filter":"datum.s=='cr'"}],"mark":{"type":"line","interpolate":"linear-closed","fill":"#ff7070","fillOpacity":0.5,"stroke":"#ff2200","strokeWidth":6,"strokeJoin":"round","clip":false},"encoding":{"order":{"field":"i","type":"quantitative"},"detail":{"field":"p"}}},
{"data":{"name":"txt"},"transform":[{"filter":"datum.k=='vv'"}],"mark":{"type":"text","font":"Noto Sans","fontSize":70,"fontWeight":"bold","align":"center","baseline":"alphabetic","color":"#ff0000"},"encoding":{"text":{"field":"t"}}},
{"data":{"name":"poly"},"transform":[{"filter":"datum.s=='cb'"}],"mark":{"type":"line","interpolate":"linear-closed","fill":"#8080d0","fillOpacity":0.5,"stroke":"#4040a8","strokeWidth":6,"strokeJoin":"round","clip":false},"encoding":{"order":{"field":"i","type":"quantitative"},"detail":{"field":"p"}}},
{"data":{"name":"txt"},"transform":[{"filter":"datum.k=='cm'"}],"mark":{"type":"text","font":"Noto Sans","fontSize":72,"fontWeight":"bold","align":"left","baseline":"alphabetic","color":"#3333cc"},"encoding":{"text":{"field":"t"}}},
{"data":{"name":"txt"},"transform":[{"filter":"datum.k=='cs'"}],"mark":{"type":"text","font":"Noto Sans","fontSize":50,"fontWeight":"bold","align":"left","baseline":"alphabetic","color":"#3333cc"},"encoding":{"text":{"field":"t"}}}
]
}
